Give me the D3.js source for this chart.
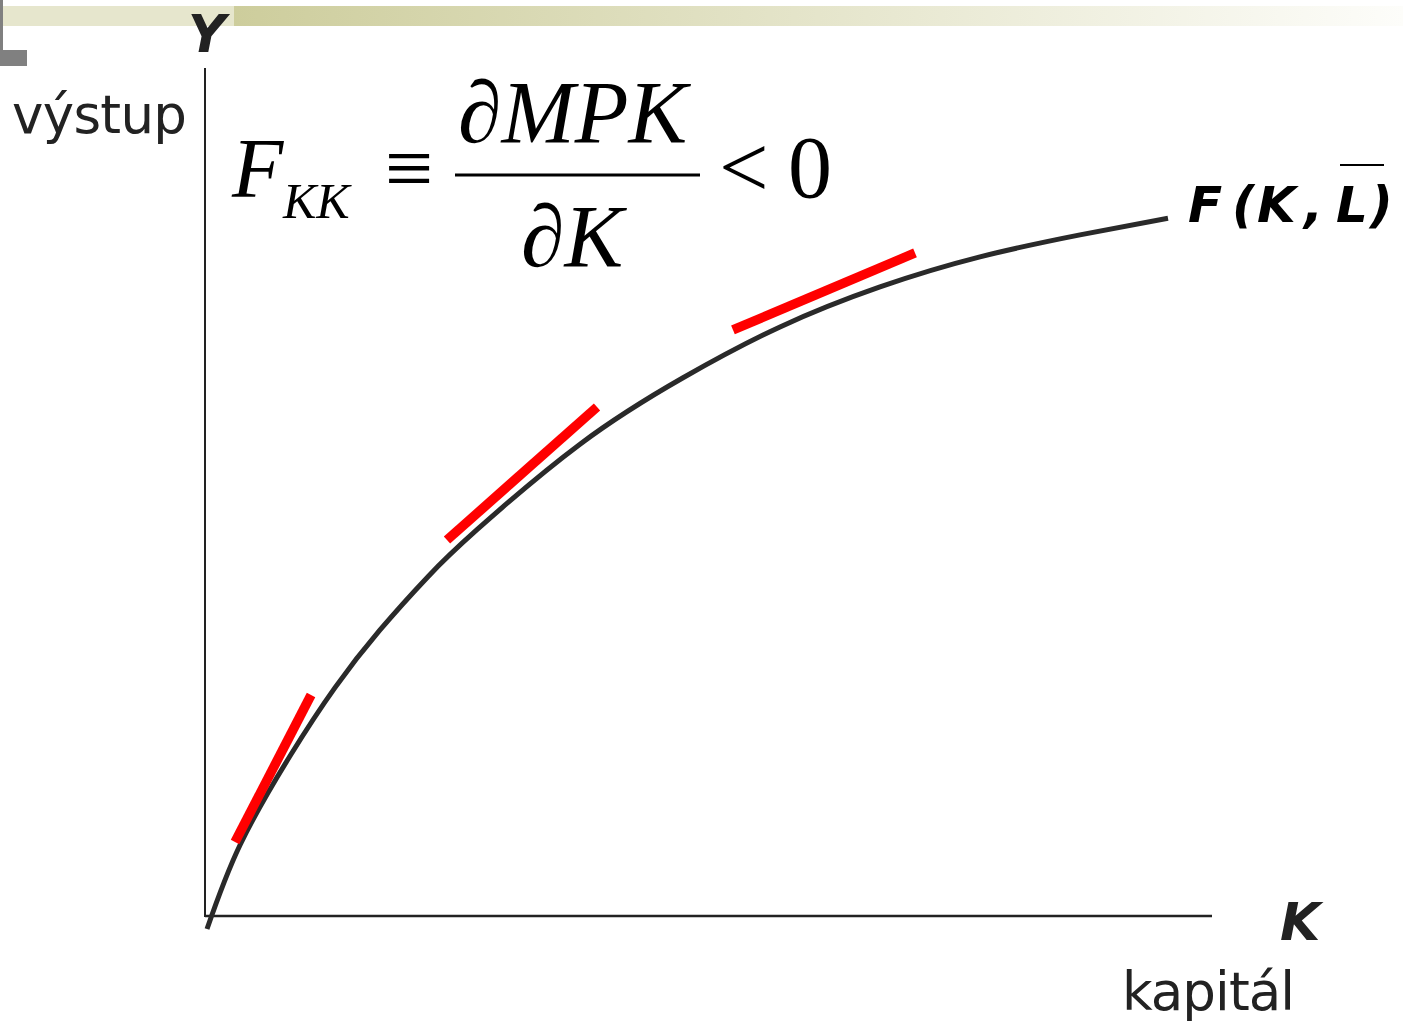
<!DOCTYPE html>
<html><head><meta charset="utf-8">
<script src="https://cdn.jsdelivr.net/npm/d3@7"></script>
<style>html,body{margin:0;padding:0;background:#fff;}svg{display:block;}</style>
</head><body>
<script>
// Production function F(K, L̄) (K, Y in abstract units 0..100)
const curveK = [0.20, 3.48, 8.44, 12.91, 17.38, 22.14, 27.01, 37.24, 47.47, 57.10, 67.03, 76.96, 86.89, 95.63];
const curveY = [-1.54, 8.39, 18.91, 27.00, 33.81, 40.11, 45.66, 55.77, 63.62, 69.63, 74.36, 77.91, 80.51, 82.48];
// Red tangent segments (MPK slopes): [K0, Y0, K1, Y1]
const tangents = [
  [2.98, 8.75, 10.53, 26.12],
  [24.03, 44.44, 38.93, 60.17],
  [52.43, 69.27, 70.51, 78.37]
];
const axisLabels = {y: "Y", ySub: "výstup", x: "K", xSub: "kapitál"};
const curveLabel = ["F", "(", "K", ",", "L", ")"];

const W = 1403, H = 1025;
const svg = d3.select("body").append("svg").attr("width", W).attr("height", H);

// decorative top bar
const defs = svg.append("defs");
const g = defs.append("linearGradient").attr("id", "bar").attr("x1", "0").attr("x2", "1");
g.append("stop").attr("offset", "0").attr("stop-color", "#cdcd9c");
g.append("stop").attr("offset", "1").attr("stop-color", "#fdfdfa");
svg.append("rect").attr("x", 0).attr("y", 6).attr("width", 234).attr("height", 20).attr("fill", "#e6e6cd");
svg.append("rect").attr("x", 234).attr("y", 6).attr("width", W - 234).attr("height", 20).attr("fill", "url(#bar)");
svg.append("rect").attr("x", 0).attr("y", 0).attr("width", 3).attr("height", 60).attr("fill", "#808080");
svg.append("rect").attr("x", 0).attr("y", 50).attr("width", 27).attr("height", 16).attr("fill", "#808080");

const x = d3.scaleLinear().domain([0, 100]).range([205, 1212]);
const y = d3.scaleLinear().domain([0, 100]).range([916, 70]);

// axes
svg.append("line").attr("x1", x(0)).attr("x2", x(0)).attr("y1", y(100) - 2).attr("y2", y(0) + 1)
  .attr("stroke", "#222").attr("stroke-width", 2);
svg.append("line").attr("x1", x(0)).attr("x2", x(100)).attr("y1", y(0)).attr("y2", y(0))
  .attr("stroke", "#222").attr("stroke-width", 2.5);

// curve
const pts = curveK.map((k, i) => [k, curveY[i]]);
svg.append("path").datum(pts)
  .attr("d", d3.line().x(d => x(d[0])).y(d => y(d[1])).curve(d3.curveNatural))
  .attr("fill", "none").attr("stroke", "#2a2a2a").attr("stroke-width", 5);

// tangents
svg.selectAll("line.tan").data(tangents).join("line").attr("class", "tan")
  .attr("x1", d => x(d[0])).attr("y1", d => y(d[1]))
  .attr("x2", d => x(d[2])).attr("y2", d => y(d[3]))
  .attr("stroke", "#ff0000").attr("stroke-width", 9.5);

// axis labels
const sans = "'DejaVu Sans', Verdana, sans-serif";
svg.append("text").attr("x", 188).attr("y", 52).attr("font-family", sans).attr("font-weight", "bold")
  .attr("font-style", "italic").attr("font-size", 52).attr("fill", "#222").text(axisLabels.y);
svg.append("text").attr("x", 12).attr("y", 133).attr("font-family", sans)
  .attr("font-size", 53).attr("fill", "#222").attr("textLength", 175).text(axisLabels.ySub);
svg.append("text").attr("x", 1280).attr("y", 940).attr("font-family", sans).attr("font-weight", "bold")
  .attr("font-style", "italic").attr("font-size", 52).attr("fill", "#222").text(axisLabels.x);
svg.append("text").attr("x", 1122).attr("y", 1010).attr("font-family", sans)
  .attr("font-size", 53).attr("fill", "#222").attr("textLength", 173).text(axisLabels.xSub);

// curve label F(K, L̄)
const labelX = [1188, 1232, 1257, 1304, 1336, 1370];
const fl = svg.append("text").attr("y", 222).attr("font-family", sans)
  .attr("font-weight", "bold").attr("font-style", "italic").attr("font-size", 50).attr("fill", "#000");
curveLabel.forEach((c, i) => fl.append("tspan").attr("x", labelX[i]).text(c));
svg.append("line").attr("x1", 1340).attr("x2", 1384).attr("y1", 165).attr("y2", 165)
  .attr("stroke", "#000").attr("stroke-width", 2);

// formula
const serif = "'Liberation Serif', 'Times New Roman', serif";
const f = svg.append("g").attr("font-family", serif).attr("fill", "#000");
f.append("text").attr("x", 232).attr("y", 197).attr("font-size", 84).attr("font-style", "italic").text("F");
f.append("text").attr("x", 283).attr("y", 218).attr("font-size", 50).attr("font-style", "italic").text("KK");
f.append("text").attr("x", 385).attr("y", 197).attr("font-size", 86).text("≡");
f.append("line").attr("x1", 455).attr("x2", 700).attr("y1", 175).attr("y2", 175).attr("stroke", "#000").attr("stroke-width", 3);
f.append("text").attr("x", 458).attr("y", 142).attr("font-size", 88).attr("font-style", "italic").text("∂MPK");
f.append("text").attr("x", 521).attr("y", 266).attr("font-size", 88).attr("font-style", "italic").text("∂K");
f.append("text").attr("x", 719).attr("y", 197).attr("font-size", 88).text("<");
f.append("text").attr("x", 788).attr("y", 197).attr("font-size", 88).text("0");
</script>
</body></html>
